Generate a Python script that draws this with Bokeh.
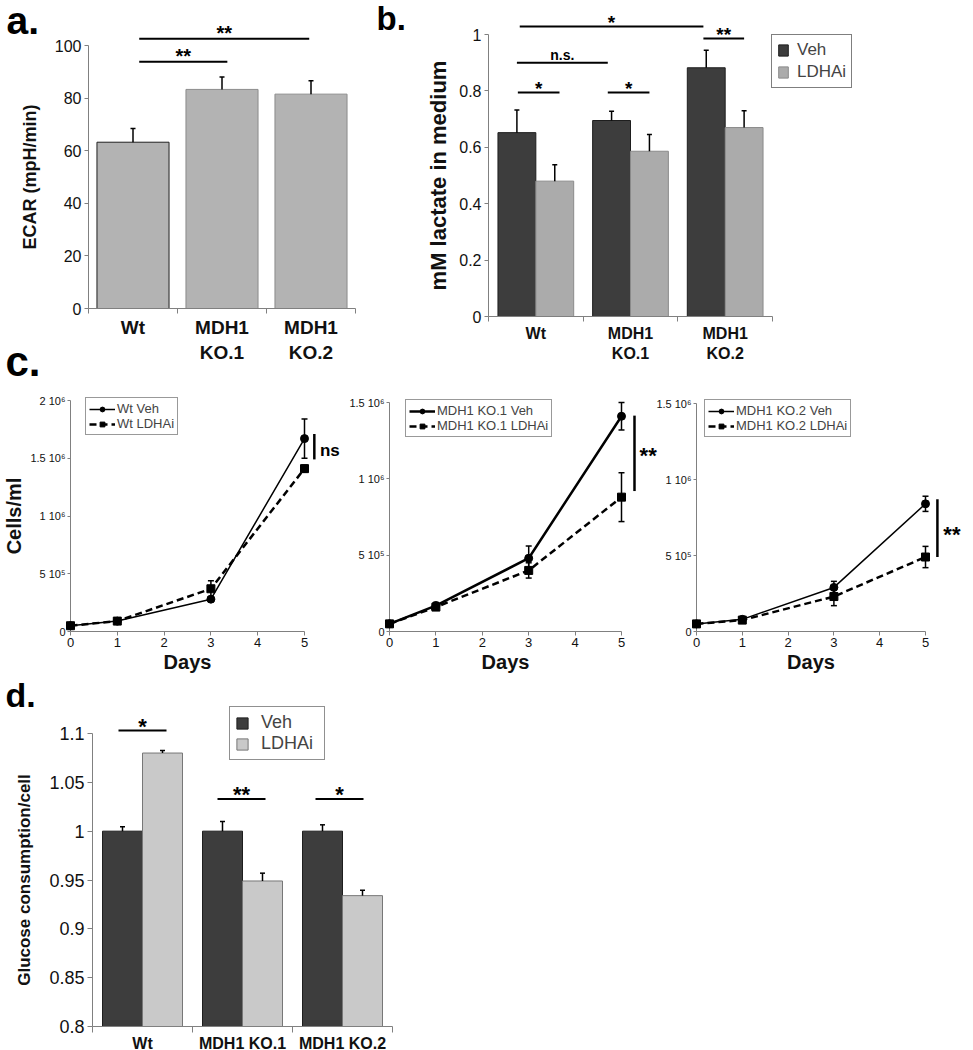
import numpy as np
from bokeh.plotting import figure
from bokeh.models import (ColumnDataSource, FixedTicker, Range1d, Label, Legend, LegendItem,
                          LinearAxis)
from bokeh.embed import file_html
from bokeh.resources import INLINE

FONT = "Liberation Sans"
AXIS_GRAY = "#808080"

# ---------------- data ----------------
# panel a : ECAR
ecar_groups = ["Wt", "MDH1\nKO.1", "MDH1\nKO.2"]
ecar_mean = [63.3, 83.4, 81.6]
ecar_err = [5.2, 4.7, 5.1]
ecar_ticks = [0, 20, 40, 60, 80, 100]

# panel b : lactate
lact_groups = ["Wt", "MDH1\nKO.1", "MDH1\nKO.2"]
lact_veh = [0.652, 0.695, 0.882]
lact_veh_err = [0.080, 0.033, 0.062]
lact_ldhai = [0.480, 0.586, 0.670]
lact_ldhai_err = [0.058, 0.059, 0.060]
lact_ticks = [0, 0.2, 0.4, 0.6, 0.8, 1.0]
lact_tick_labels = ["0", "0.2", "0.4", "0.6", "0.8", "1"]

# panel c : growth curves
days = [0, 1, 3, 5]
day_ticks = [0, 1, 2, 3, 4, 5]
wt_veh = [0.05e6, 0.09e6, 0.28e6, 1.67e6]
wt_veh_err = [0.005e6, 0.01e6, 0.02e6, 0.17e6]
wt_ldhai = [0.05e6, 0.09e6, 0.37e6, 1.41e6]
wt_ldhai_err = [0.005e6, 0.01e6, 0.07e6, 0.03e6]
ko1_veh = [0.05e6, 0.17e6, 0.48e6, 1.41e6]
ko1_veh_err = [0.005e6, 0.02e6, 0.08e6, 0.09e6]
ko1_ldhai = [0.05e6, 0.16e6, 0.40e6, 0.88e6]
ko1_ldhai_err = [0.005e6, 0.02e6, 0.05e6, 0.16e6]
ko2_veh = [0.05e6, 0.08e6, 0.29e6, 0.84e6]
ko2_veh_err = [0.005e6, 0.01e6, 0.04e6, 0.05e6]
ko2_ldhai = [0.05e6, 0.075e6, 0.23e6, 0.49e6]
ko2_ldhai_err = [0.005e6, 0.01e6, 0.06e6, 0.07e6]
cells_ticks = [0, 5e5, 1e6, 1.5e6, 2e6]
cells_tick_labels = ["0", "5 10\u2075", "1 10\u2076", "1.5 10\u2076", "2 10\u2076"]

# panel d : glucose consumption
gluc_groups = ["Wt", "MDH1 KO.1", "MDH1 KO.2"]
gluc_veh = [1.0, 1.0, 1.0]
gluc_veh_err = [0.0045, 0.010, 0.0065]
gluc_ldhai = [1.080, 0.949, 0.934]
gluc_ldhai_err = [0.0025, 0.008, 0.0055]
gluc_ticks = [0.8, 0.85, 0.9, 0.95, 1.0, 1.05, 1.1]
gluc_tick_labels = ["0.8", "0.85", "0.9", "0.95", "1", "1.05", "1.1"]

# significance annotations: (x0, x1, y, text) in axis units
sig_a = [(0.57, 1.56, 93.9, "**"), (0.57, 2.48, 102.7, "**")]
sig_b = [(0.31, 0.75, 0.794, "*"), (0.30, 1.26, 0.90, "n.s."), (1.26, 1.70, 0.794, "*"),
         (0.33, 2.27, 1.028, "*"), (2.27, 2.70, 0.986, "**")]
sig_d = [(0.26, 0.74, 1.103, "*"), (1.25, 1.73, 1.033, "**"), (2.23, 2.71, 1.033, "*")]

# ---------------- styles ----------------
A_FILL = "#b3b3b3"
A_LINES = ["#202020", "#8c8c8c", "#8c8c8c"]
VEH_FILL = "#3d3d3d"
VEH_LINE = "#1e1e1e"
LDH_FILL_B = "#ababab"
LDH_FILL_D = "#c9c9c9"
LDH_LINE = "#777777"
BASE_SHIFT = 0.4   # em; rendered alphabetic baseline sits this far below the anchor

CW, CH = 973, 1050

# One canvas; the default ranges are page pixels (y measured from the bottom).
p = figure(width=CW, height=CH, x_range=Range1d(0, CW), y_range=Range1d(0, CH),
           x_axis_type=None, y_axis_type=None, output_backend="svg", toolbar_location=None,
           min_border=0, min_border_left=0, min_border_right=0,
           min_border_top=0, min_border_bottom=0)
p.title.visible = False
p.outline_line_color = None
p.background_fill_color = "white"
p.border_fill_color = "white"


class Panel:
    """Named x/y ranges for one panel: pixel px0 shows value v0, sx pixels per unit."""

    def __init__(self, name, xmap, ymap):
        self.ox, self.sx, self.vx0 = xmap
        self.oy, self.sy, self.vy0 = ymap
        self.xn, self.yn = name + "_x", name + "_y"
        p.extra_x_ranges[self.xn] = Range1d(self.dx(0), self.dx(CW))
        p.extra_y_ranges[self.yn] = Range1d(self.dy(CH), self.dy(0))
        self.kw = dict(x_range_name=self.xn, y_range_name=self.yn)

    def dx(self, px):
        return self.vx0 + (px - self.ox) / self.sx

    def dy(self, py):
        return self.vy0 + (self.oy - py) / self.sy


def make_axis(P, side, size, loc, bounds):
    ax = LinearAxis(**P.kw)
    ax.fixed_location = loc
    ax.bounds = bounds
    ax.axis_line_color = AXIS_GRAY
    ax.axis_line_width = 1
    ax.major_tick_line_color = AXIS_GRAY
    ax.minor_tick_line_color = AXIS_GRAY
    ax.major_label_text_font = FONT
    ax.major_label_text_font_size = size
    ax.major_label_text_color = "#111111"
    ax.axis_label_text_font = FONT
    ax.axis_label_text_font_style = "bold"
    ax.axis_label_text_color = "#111111"
    ax.minor_tick_in = 0
    ax.minor_tick_out = 0
    ax.major_tick_in = 0
    p.add_layout(ax, side)
    return ax


def cat_xaxis(P, groups, size, loc, tick_len, standoff):
    xa = make_axis(P, "below", size, loc, (0, len(groups)))
    xa.ticker = FixedTicker(ticks=[i + 0.5 for i in range(len(groups))],
                            minor_ticks=list(range(len(groups) + 1)))
    xa.major_label_overrides = {i + 0.5: g for i, g in enumerate(groups)}
    xa.major_label_text_font_style = "bold"
    xa.major_tick_out = 0
    xa.minor_tick_out = tick_len
    xa.major_label_standoff = standoff
    return xa


def add_sig(P, x0, x1, y, text, size, gap):
    p.segment(x0=[x0], y0=[y], x1=[x1], y1=[y], line_color="black", line_width=2, **P.kw)
    p.add_layout(Label(x=(x0 + x1) / 2, y=y, text=text, text_align="center",
                       text_baseline="alphabetic", text_font=FONT, text_font_style="bold",
                       text_font_size=f"{size}px", y_offset=gap, text_color="black", **P.kw))


def letter(px, baseline_px, text, size):
    p.add_layout(Label(x=px, y=CH - (baseline_px - BASE_SHIFT * size), text=text,
                       text_align="left", text_baseline="alphabetic",
                       text_font=FONT, text_font_style="bold", text_font_size=f"{size}px",
                       text_color="black"))


def err_up(P, x, top, err, cap):
    x = np.asarray(x, float)
    top = np.asarray(top, float)
    hi = top + np.asarray(err, float)
    p.segment(x0=x, y0=top, x1=x, y1=hi, line_color="black", line_width=1.5, **P.kw)
    p.scatter(x, hi, marker="dash", size=cap, line_color="black", line_width=1.5, **P.kw)


def make_legend(items, left_px, bottom_px, size, gw, gh, pad, spacing, standoff,
                border="black", label_width=None):
    leg = Legend(items=items, location=(left_px, CH - bottom_px))
    leg.border_line_color = border
    leg.border_line_width = 1
    leg.label_text_font = FONT
    leg.label_text_font_size = size
    leg.glyph_width = gw
    leg.glyph_height = gh
    leg.padding = pad
    leg.spacing = spacing
    leg.margin = 0
    leg.label_standoff = standoff
    leg.background_fill_color = "white"
    leg.background_fill_alpha = 1.0
    if label_width:
        leg.label_width = label_width
    p.add_layout(leg)
    return leg


# ---------------- panel a ----------------
A = Panel("a", (88, 89.0, 0.0), (308, 2.627, 0.0))
cat_xaxis(A, ecar_groups, "19px", 0, 5, 3)
ya = make_axis(A, "left", "16px", 0, (0, 100))
ya.ticker = FixedTicker(ticks=ecar_ticks)
ya.major_tick_out = 4
ya.major_label_standoff = 3
ya.axis_label = "ECAR (mpH/min)"
ya.axis_label_text_font_size = "18px"
ya.axis_label_standoff = 12
xa_pos = [i + 0.5 for i in range(len(ecar_groups))]
src_a = ColumnDataSource(dict(x=xa_pos, top=ecar_mean, lc=A_LINES))
p.vbar(x="x", top="top", width=0.81, bottom=0, source=src_a,
       fill_color=A_FILL, line_color="lc", line_width=1, **A.kw)
err_up(A, xa_pos, ecar_mean, ecar_err, 5)
for x0, x1, y, t in sig_a:
    add_sig(A, x0, x1, y, t, 20, 6)
letter(6, 36, "a.", 39)

# ---------------- panel b ----------------
B = Panel("b", (488, 94.67, 0.0), (316, 282.0, 0.0))
cat_xaxis(B, lact_groups, "16px", 0, 5, 3)
yb = make_axis(B, "left", "16px", 0, (0, 1))
yb.ticker = FixedTicker(ticks=lact_ticks)
yb.major_label_overrides = {t: l for t, l in zip(lact_ticks, lact_tick_labels)}
yb.major_tick_out = 4
yb.major_label_standoff = 3
yb.axis_label = "mM lactate in medium"
yb.axis_label_text_font_size = "22px"
yb.axis_label_standoff = 5
xb = np.array([i + 0.5 for i in range(len(lact_groups))])
rb1 = p.vbar(x=xb - 0.2, top=lact_veh, width=0.4, bottom=0,
             fill_color=VEH_FILL, line_color=VEH_LINE, line_width=1, **B.kw)
rb2 = p.vbar(x=xb + 0.2, top=lact_ldhai, width=0.4, bottom=0,
             fill_color=LDH_FILL_B, line_color="#8a8a8a", line_width=1, **B.kw)
err_up(B, xb - 0.2, lact_veh, lact_veh_err, 5)
err_up(B, xb + 0.2, lact_ldhai, lact_ldhai_err, 5)
for x0, x1, y, t in sig_b:
    if t == "n.s.":
        add_sig(B, x0, x1, y, t, 14, 8)
    else:
        add_sig(B, x0, x1, y, t, 19, 4)
make_legend([LegendItem(label="Veh", renderers=[rb1]),
             LegendItem(label="LDHAi", renderers=[rb2])],
            771, 88, "17px", 12, 14, 5, 2, 8)
letter(376, 31, "b.", 33)


# ---------------- panel c ----------------
def growth_panel(P, y_top, veh, veh_err, ldh, ldh_err, names, leg_box, bracket, sig,
                 veh_lw, ylabel=None):
    xa = make_axis(P, "below", "13px", 0, (0, 5))
    xa.ticker = FixedTicker(ticks=day_ticks)
    xa.major_tick_out = 4
    xa.major_label_standoff = 2
    xa.axis_label = "Days"
    xa.axis_label_text_font_size = "20px"
    xa.axis_label_standoff = 1
    xa.level = "underlay"
    ya = make_axis(P, "left", "11px", 0, (0, y_top))
    ticks = [t for t in cells_ticks if t <= y_top]
    ya.ticker = FixedTicker(ticks=ticks)
    ya.major_label_overrides = {t: l for t, l in zip(cells_ticks, cells_tick_labels) if t <= y_top}
    ya.major_tick_out = 3
    ya.major_label_standoff = 2
    ya.level = "underlay"
    if ylabel:
        ya.axis_label = ylabel
        ya.axis_label_text_font_size = "20px"
        ya.axis_label_standoff = 2

    d = np.asarray(days, float)
    for vals, errs in ((veh, veh_err), (ldh, ldh_err)):
        v = np.asarray(vals, float)
        e = np.asarray(errs, float)
        p.segment(x0=d, y0=v - e, x1=d, y1=v + e, line_color="black", line_width=1.5, **P.kw)
        p.scatter(d, v + e, marker="dash", size=6, line_color="black", line_width=1.5, **P.kw)
        p.scatter(d, v - e, marker="dash", size=6, line_color="black", line_width=1.5, **P.kw)
    l1 = p.line(days, veh, line_color="black", line_width=veh_lw, **P.kw)
    m1 = p.scatter(days, veh, marker="circle", size=8, fill_color="black",
                   line_color="black", **P.kw)
    l2 = p.line(days, ldh, line_color="black", line_width=2.5, line_dash="7 4", **P.kw)
    m2 = p.scatter(days, ldh, marker="square", size=8, fill_color="black",
                   line_color="black", **P.kw)

    make_legend([LegendItem(label=names[0], renderers=[l1, m1]),
                 LegendItem(label=names[1], renderers=[l2, m2])],
                leg_box[0], leg_box[1], "13px", 26, 12, 3, 0, 2, border="#333333")

    bx, by0, by1 = bracket
    p.segment(x0=[bx], y0=[by0], x1=[bx], y1=[by1], line_color="black", line_width=2.5, **P.kw)
    sx, sy, st = sig
    if st == "ns":
        p.add_layout(Label(x=sx, y=sy, text=st, text_align="left", text_baseline="middle",
                           text_font=FONT, text_font_style="bold", text_font_size="17px",
                           text_color="black", **P.kw))
    else:
        p.add_layout(Label(x=sx, y=sy, text=st, text_align="left", text_baseline="alphabetic",
                           text_font=FONT, text_font_style="bold", text_font_size="22px",
                           y_offset=-3, text_color="black", **P.kw))


C1 = Panel("c1", (70, 46.8, 0.0), (631, 231 / 2e6, 0.0))
C2 = Panel("c2", (389, 46.4, 0.0), (631, 229 / 1.5e6, 0.0))
C3 = Panel("c3", (696, 45.8, 0.0), (631, 228 / 1.5e6, 0.0))

growth_panel(C1, 2e6, wt_veh, wt_veh_err, wt_ldhai, wt_ldhai_err,
             ("Wt Veh", "Wt LDHAi"), (85, 435),
             (5.21, 1.49e6, 1.71e6), (5.33, 1.567e6, "ns"), 1.5, ylabel="Cells/ml")
letter(5, 378, "c.", 42)
growth_panel(C2, 1.5e6, ko1_veh, ko1_veh_err, ko1_ldhai, ko1_ldhai_err,
             ("MDH1 KO.1 Veh", "MDH1 KO.1 LDHAi"), (405, 437),
             (5.28, 0.92e6, 1.414e6), (5.39, 1.17e6, "**"), 2.5)
growth_panel(C3, 1.5e6, ko2_veh, ko2_veh_err, ko2_ldhai, ko2_ldhai_err,
             ("MDH1 KO.2 Veh", "MDH1 KO.2 LDHAi"), (704, 437),
             (5.26, 0.49e6, 0.87e6), (5.39, 0.66e6, "**"), 1.5)

# ---------------- panel d ----------------
D = Panel("d", (92, 100.0, 0.0), (1026, 293 / 0.3, 0.8))
cat_xaxis(D, gluc_groups, "16px", 0.8, 6, 2)
yd = make_axis(D, "left", "18px", 0, (0.8, 1.1))
yd.ticker = FixedTicker(ticks=gluc_ticks)
yd.major_label_overrides = {t: l for t, l in zip(gluc_ticks, gluc_tick_labels)}
yd.major_tick_out = 5
yd.major_label_standoff = 3
yd.axis_label = "Glucose consumption/cell"
yd.axis_label_text_font_size = "17px"
yd.axis_label_standoff = 12
xd = np.array([i + 0.5 for i in range(len(gluc_groups))])
rd1 = p.vbar(x=xd - 0.2, top=gluc_veh, width=0.4, bottom=0.8,
             fill_color=VEH_FILL, line_color=VEH_LINE, line_width=1, **D.kw)
rd2 = p.vbar(x=xd + 0.2, top=gluc_ldhai, width=0.4, bottom=0.8,
             fill_color=LDH_FILL_D, line_color=LDH_LINE, line_width=1, **D.kw)
err_up(D, xd - 0.2, gluc_veh, gluc_veh_err, 5)
err_up(D, xd + 0.2, gluc_ldhai, gluc_ldhai_err, 5)
for x0, x1, y, t in sig_d:
    add_sig(D, x0, x1, y, t, 22, 4)
make_legend([LegendItem(label="Veh", renderers=[rd1]),
             LegendItem(label="LDHAi", renderers=[rd2])],
            229, 760, "18px", 14, 14, 5, 0, 12, border="#222222", label_width=58)
letter(5, 708, "d.", 34)

open("out.html", "w").write(file_html(p, INLINE))
